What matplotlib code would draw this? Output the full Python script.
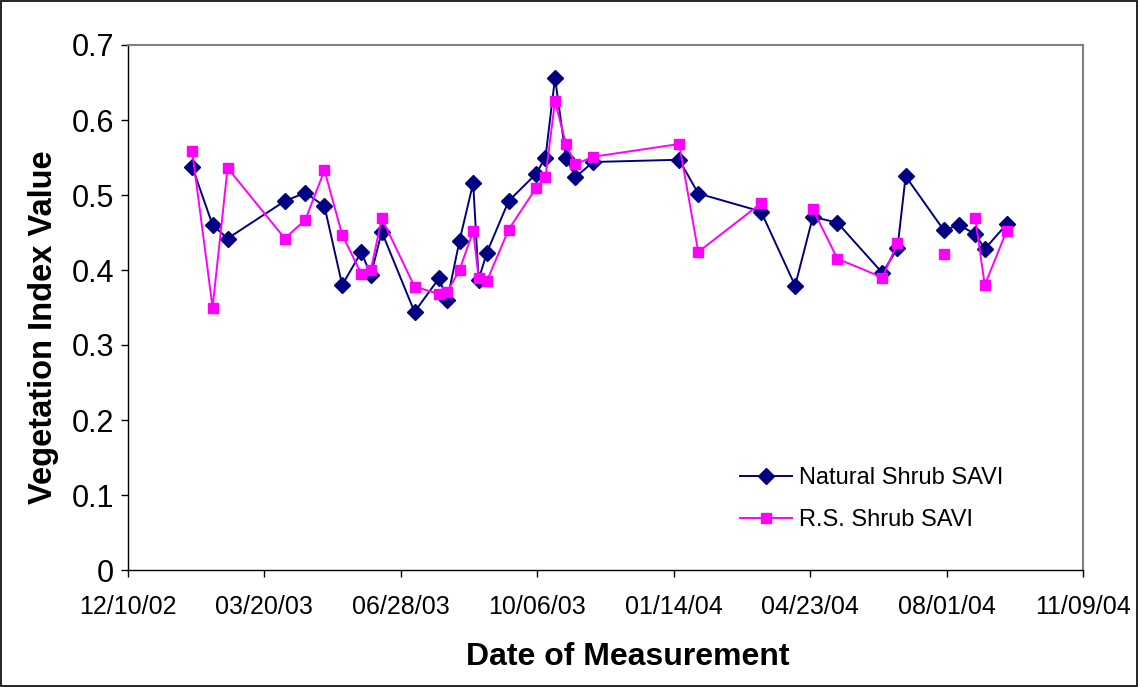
import datetime as dt

import numpy as np
import matplotlib
matplotlib.use("Agg")
import matplotlib.pyplot as plt
import matplotlib.dates as mdates
from matplotlib.patches import Rectangle

plt.rcParams['font.family'] = ['Liberation Sans', 'DejaVu Sans']

# ─── Data ───
dates = [
    "2003-01-26", "2003-02-10", "2003-02-21", "2003-04-04", "2003-04-19",
    "2003-05-03", "2003-05-16", "2003-05-30", "2003-06-06", "2003-06-14",
    "2003-07-08", "2003-07-26", "2003-08-01", "2003-08-10", "2003-08-20",
    "2003-08-24", "2003-08-30", "2003-09-15", "2003-10-05", "2003-10-12",
    "2003-10-19", "2003-10-27", "2003-11-03", "2003-11-16", "2004-01-18",
    "2004-02-01", "2004-03-18", "2004-04-12", "2004-04-25", "2004-05-13",
    "2004-06-15", "2004-06-26", "2004-07-02", "2004-07-30", "2004-08-10",
    "2004-08-22", "2004-08-29", "2004-09-14",
]
natural_savi = [
    0.538, 0.460, 0.442, 0.492, 0.503,
    0.485, 0.380, 0.424, 0.393, 0.451,
    0.344, 0.389, 0.360, 0.439, 0.516,
    0.387, 0.423, 0.492, 0.528, 0.550,
    0.656, 0.550, 0.524, 0.544, 0.547,
    0.502, 0.478, 0.379, 0.471, 0.463,
    0.396, 0.429, 0.525, 0.453, 0.460,
    0.448, 0.428, 0.461,
]
rs_savi = [
    0.559, 0.350, 0.536, 0.442, 0.467,
    0.533, 0.447, 0.395, 0.400, 0.469,
    0.378, 0.368, 0.371, 0.400, 0.452,
    0.390, 0.385, 0.454, 0.509, 0.524,
    0.625, 0.568, 0.541, 0.551, 0.568,
    0.424, 0.489, None, 0.481, 0.415,
    0.390, 0.436, None, 0.421, None,
    0.469, 0.380, 0.452,
]
x_start, x_end = "2002-12-10", "2004-11-09"

x = [dt.datetime.strptime(d, "%Y-%m-%d") for d in dates]
rs_vals = np.array([np.nan if v is None else v for v in rs_savi])

fig = plt.figure(figsize=(11.44, 6.87), dpi=100)
ax = fig.add_axes([128 / 1144, 1 - 570 / 687, 955 / 1144, 525 / 687])

ax.plot(x, natural_savi, color='#000080', linewidth=1.4, marker='D',
        markersize=8.5, label='Natural Shrub SAVI')
ax.plot(x, rs_vals, color='#FF00FF', linewidth=1.4, marker='s',
        markersize=7.5, label='R.S. Shrub SAVI')

# ─── Axes ───
start = dt.datetime.strptime(x_start, "%Y-%m-%d")
end = dt.datetime.strptime(x_end, "%Y-%m-%d")
ax.set_xlim(start, end)
ax.set_xticks([start + dt.timedelta(days=100 * i) for i in range(8)])
ax.xaxis.set_major_formatter(mdates.DateFormatter('%m/%d/%y'))
ax.set_ylim(0, 0.7)
ax.set_yticks(np.arange(0, 0.71, 0.1))
ax.set_yticklabels(['0'] + [f'{v:.1f}' for v in np.arange(0.1, 0.71, 0.1)])

ax.tick_params(axis='y', direction='out', length=5, width=1, labelsize=22, pad=5)
ax.tick_params(axis='x', direction='out', length=5, width=1, labelsize=18, pad=13)

for side in ['top', 'right']:
    ax.spines[side].set_color('#808080')
    ax.spines[side].set_linewidth(1.5)
for side in ['left', 'bottom']:
    ax.spines[side].set_color('black')
    ax.spines[side].set_linewidth(1)

ax.set_xlabel('Date of Measurement', fontsize=23, fontweight='bold', va='center')
ax.set_ylabel('Vegetation Index Value', fontsize=23.5, fontweight='bold', va='center')
ax.xaxis.set_label_coords(0.5236, -0.166)
ax.yaxis.set_label_coords(-0.088, 0.463)

ax.legend(loc='center left', bbox_to_anchor=(0.641, 0.135), frameon=False,
          fontsize=17, handlelength=2.2, handletextpad=0.3, labelspacing=0.85,
          borderpad=0, borderaxespad=0)

# outer chart border
fig.patches.append(Rectangle((1 / 1144, 1 / 687), 1136 / 1144, 685 / 687,
                             transform=fig.transFigure, fill=False,
                             edgecolor='black', linewidth=1.2))

fig.savefig('out.png', dpi=100)
plt.close(fig)
